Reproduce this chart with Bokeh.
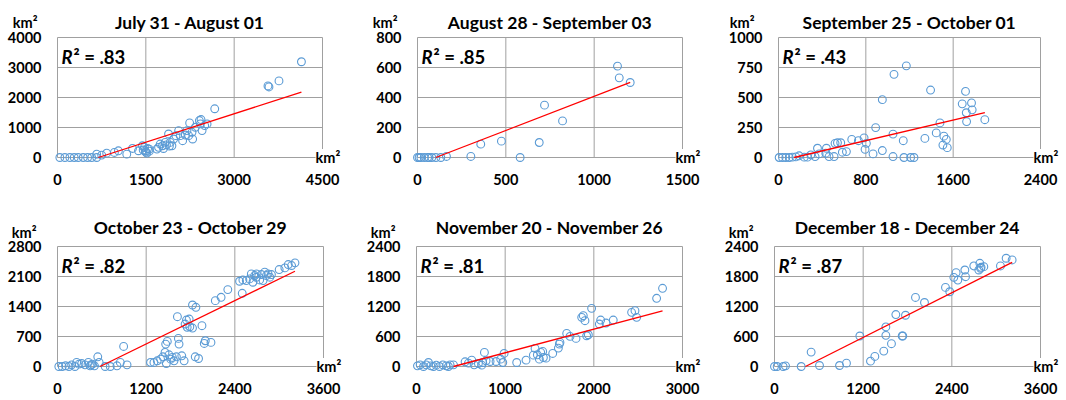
from bokeh.plotting import figure
from bokeh.layouts import column, row
from bokeh.models import Range1d, FixedTicker, Label
from bokeh.embed import file_html
from bokeh.resources import INLINE

# ---------------- data ----------------
titles = ["July 31 - August 01", "August 28 - September 03", "September 25 - October 01",
          "October 23 - October 29", "November 20 - November 26", "December 18 - December 24"]
r2_values = [".83", ".85", ".43", ".82", ".81", ".87"]

x_ticks = [[0, 1500, 3000, 4500], [0, 500, 1000, 1500], [0, 800, 1600, 2400],
           [0, 1200, 2400, 3600], [0, 1000, 2000, 3000], [0, 1200, 2400, 3600]]
y_ticks = [[0, 1000, 2000, 3000, 4000], [0, 200, 400, 600, 800], [0, 250, 500, 750, 1000],
           [0, 700, 1400, 2100, 2800], [0, 600, 1200, 1800, 2400], [0, 600, 1200, 1800, 2400]]

# trend lines (slope, intercept)
trend_slope = [0.632, 0.4545, 0.2135, 0.843, 0.4717, 0.745]
trend_intercept = [-438, -47, -30.5, -486, -197, -312]

p1_x = [40, 125, 210, 284, 352, 437, 511, 580, 665,
        665, 750, 835, 966, 1034, 1176, 1273, 1375, 1443, 1489, 1477, 1517, 1557,
        1455, 1500, 1530, 1560, 1800, 1850, 1900,
        1688, 1744, 1784, 1716, 1830, 1886, 1915, 1943, 1972, 2011, 2057, 2085, 2125,
        2170, 2199, 2227, 2244, 2284, 2295, 2341, 2409, 2426, 2455, 2500, 2540, 2437,
        2670, 3574, 3591, 3761, 4142]
p1_y = [0, 0, 0, 0, 0, 0, 0, 0, 0,
        110, 80, 145, 168, 224, 112, 302, 224, 392, 224, 336, 146, 280,
        250, 180, 300, 210, 300, 420, 380,
        280, 448, 392, 336, 504, 784, 504, 392, 616, 728, 896, 728, 560,
        750, 896, 728, 1153, 840, 616, 1008, 1232, 1120, 896, 1064, 1120, 1265,
        1624, 2385, 2352, 2553, 3191]

p2_x = [0, 9, 19, 38, 57, 66, 81, 104, 132, 164, 302, 358, 475, 581, 689, 719, 821, 1132, 1142, 1204]
p2_y = [0, 0, 0, 0, 0, 0, 0, 0, 0, 7, 7, 89, 109, 0, 100, 349, 244, 609, 531, 500]

p3_x = [6, 37, 67, 98, 128, 159, 189, 235, 265, 296, 335, 357, 372, 433, 439, 463, 509, 518,
        540, 570, 585, 622, 671, 732, 784, 793, 805, 866, 890, 951, 951, 1049, 1049, 1058,
        1143, 1149, 1171, 1210, 1241, 1341, 1393, 1445, 1479, 1515, 1537, 1506, 1546, 1683,
        1713, 1720, 1723, 1768, 1774, 1890]
p3_y = [0, 0, 0, 0, 3, 5, 14, 3, 3, 22, 8, 77, 30, 36, 77, 8, 8, 118,
        123, 123, 44, 49, 151, 140, 164, 68, 118, 30, 249, 58, 482, 195, 8, 693,
        140, 0, 764, 0, 0, 159, 562, 205, 288, 178, 151, 104, 82, 447,
        551, 373, 299, 455, 397, 315]

p4_x = [18, 64, 109, 155, 191, 236, 259, 291, 327, 373, 418, 441, 473, 500, 545, 564, 455,
        645, 714, 850, 895, 941, 805,
        1259, 1305, 1350, 1395, 1427, 1455, 1464, 1486, 1473, 1509, 1532, 1555, 1577, 1609,
        1645, 1636, 1682, 1714, 1623, 1727, 1745, 1782, 1755, 1791, 1827, 1827, 1873, 1864,
        1909, 1955, 1986, 2000, 2077, 2136, 2214, 2305,
        2500, 2464, 2509, 2555, 2600, 2645, 2668, 2691, 2736, 2759, 2805, 2827, 2850, 2873,
        2782, 2895, 3000, 3077, 3123, 3168, 3214, 2691, 2623]
p4_y = [0, 0, 16, 0, 39, 0, 94, 55, 70, 39, 94, 16, 55, 16, 226, 94, 39,
        0, 0, 94, 468, 39, 16,
        94, 94, 133, 172, 226, 328, 523, 585, 70, 273, 172, 211, 133, 226,
        523, 655, 250, 133, 1162, 991, 1084, 1107, 913, 928, 897, 1435, 1381, 226,
        187, 952, 538, 601, 562, 1537, 1615, 1794,
        1708, 1989, 2020, 2005, 2044, 1966, 2122, 2083, 2020, 2145, 2200, 2122, 2161, 2083,
        2005, 2145, 2262, 2301, 2379, 2356, 2418, 2161, 2161]

p5_x = [11, 41, 79, 109, 135, 161, 192, 222, 259, 297, 334, 360, 379, 417, 548, 586, 623,
        650, 698, 736, 747, 766, 785, 830, 897, 950, 973, 988, 1130, 1235, 1318, 1337, 1363,
        1386, 1401, 1431, 1461, 1423, 1536, 1600, 1611, 1618, 1694, 1731, 1799, 1863, 1881,
        1900, 1919, 1938, 1975, 2062, 2077, 2137, 2219, 2426, 2464, 2483, 2708, 2775]
p5_y = [13, 33, 0, 33, 80, 13, 0, 27, 0, 33, 13, 0, 33, 33, 94, 67, 127,
        33, 60, 27, 80, 281, 114, 100, 100, 147, 80, 261, 80, 127, 227, 361, 234,
        147, 281, 180, 167, 301, 261, 368, 448, 481, 662, 602, 562, 983, 1016,
        916, 615, 635, 1163, 849, 929, 869, 929, 1083, 1116, 983, 1364, 1564]

p6_x = [0, 36, 117, 149, 361, 496, 609, 880, 974, 1155, 1299, 1358, 1479, 1507, 1507, 1583,
        1642, 1728, 1736, 1773, 1908, 2030, 2314, 2372, 2427, 2458, 2481, 2585, 2576, 2697,
        2765, 2779, 2796, 2833, 3058, 3135, 3216, 2788]
p6_y = [0, 0, 0, 13, 0, 288, 20, 20, 67, 610, 107, 201, 308, 791, 623, 456,
        1039, 610, 610, 1025, 1381, 1280, 1582, 1495, 1783, 1877, 1729, 1796, 1930, 2011,
        1930, 2064, 1984, 1997, 2011, 2165, 2131, 1964]

series_x = [p1_x, p2_x, p3_x, p4_x, p5_x, p6_x]
series_y = [p1_y, p2_y, p3_y, p4_y, p5_y, p6_y]

# ---------------- styling / layout (pixels) ----------------
FONT = "Lato"
BLUE = "#5b9bd5"
GRID = "#a0a0a0"
TXT = "#000000"
COL_X = [0, 360, 716]          # left edge of each figure column
COL_W = [360, 356, 348]        # figure widths
ROW_Y = [0, 200]               # top edge of each figure row
ROW_H = [200, 199]             # figure heights
BOX_LEFT = [57, 417, 778, 57, 416, 774]
BOX_W = [265, 265, 262, 266, 266, 266]
BOX_TOP = [37, 246]
BOX_H = 120
ykm_left = [20, 20, 24, 21, 21, 21]
title_base = [15, 19]          # title baseline above box top
ykm_base = [15, 14]            # y unit label baseline above box top
r2_base = 19                   # R^2 baseline below box top


def make(i):
    r, c = divmod(i, 3)
    xt, yt = x_ticks[i], y_ticks[i]
    xmax, ymax = xt[-1], yt[-1]
    bw = BOX_W[i]
    ux = xmax / bw
    uy = ymax / BOX_H
    bl = BOX_LEFT[i] - COL_X[c]
    bt = BOX_TOP[r] - ROW_Y[r]
    bb = bt + BOX_H
    W, H = COL_W[c], ROW_H[r]
    p = figure(frame_width=W, frame_height=H, title=None,
               x_range=Range1d(-bl * ux, xmax + (W - bl - bw) * ux),
               y_range=Range1d(-(H - bb) * uy, ymax + bt * uy),
               output_backend="svg", toolbar_location=None, tools="",
               min_border=0)
    p.outline_line_color = None
    p.xgrid.visible = False
    p.ygrid.visible = False
    p.background_fill_color = "white"
    p.border_fill_color = "white"

    for ax, ticks, stand in ((p.xaxis[0], xt, 16), (p.yaxis[0], yt, 16)):
        ax.fixed_location = 0
        ax.ticker = FixedTicker(ticks=ticks)
        ax.axis_line_color = None
        ax.major_tick_line_color = None
        ax.minor_tick_line_color = None
        ax.major_tick_out = 0
        ax.major_tick_in = 0
        ax.minor_tick_out = 0
        ax.major_label_standoff = stand
        ax.major_label_text_font = FONT
        ax.major_label_text_font_style = "bold"
        ax.major_label_text_font_size = "14.5px"
        ax.major_label_text_color = TXT

    # grid / box
    p.segment(x0=xt, y0=[yt[0]] * len(xt), x1=xt, y1=[ymax] * len(xt),
              line_color=GRID, line_width=1)
    p.segment(x0=[xt[0]] * len(yt), y0=yt, x1=[xmax] * len(yt), y1=yt,
              line_color=GRID, line_width=1)

    xs, ys = series_x[i], series_y[i]
    p.scatter(x=xs, y=ys, marker="circle", size=7.8, fill_color=None,
              line_color=BLUE, line_width=1.1)

    m, b = trend_slope[i], trend_intercept[i]
    x_start = max(min(xs), -b / m)
    x_end = max(xs)
    p.line(x=[x_start, x_end], y=[m * x_start + b, m * x_end + b],
           line_color="#ff0000", line_width=1.3)

    # title
    p.add_layout(Label(x=xmax / 2, y=ymax + title_base[r] * uy, text=titles[i],
                       text_font=FONT, text_font_style="bold", text_font_size="17.5px",
                       text_color=TXT, text_align="center", text_baseline="alphabetic"))
    # R^2 text
    p.add_layout(Label(x=4 * ux, y=ymax - r2_base * uy, text="R", text_font=FONT,
                       text_font_style="bold italic", text_font_size="18.5px",
                       text_color=TXT, text_align="left", text_baseline="alphabetic"))
    p.add_layout(Label(x=16 * ux, y=ymax - r2_base * uy, text="\u00b2 = " + r2_values[i],
                       text_font=FONT, text_font_style="bold", text_font_size="18.5px",
                       text_color=TXT, text_align="left", text_baseline="alphabetic"))
    # unit labels
    p.add_layout(Label(x=-ykm_left[i] * ux, y=ymax + ykm_base[r] * uy, text="km\u00b2",
                       text_font=FONT, text_font_style="bold", text_font_size="14.5px",
                       text_color=TXT, text_align="right", text_baseline="alphabetic"))
    p.add_layout(Label(x=xmax - 7 * ux, y=0, text="km\u00b2", text_font=FONT,
                       text_font_style="bold", text_font_size="14.5px", text_color=TXT,
                       text_align="left", text_baseline="middle",
                       background_fill_color="white"))
    return p


figs = [make(i) for i in range(6)]
layout = column(row(*figs[:3]), row(*figs[3:]))

open("out.html", "w").write(file_html(layout, INLINE))
